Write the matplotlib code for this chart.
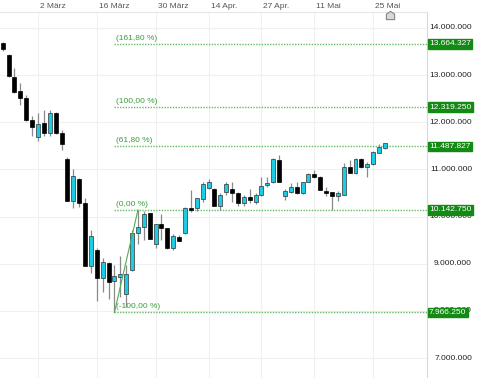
import numpy as np
import pandas as pd
import matplotlib
matplotlib.use("Agg")
import matplotlib.pyplot as plt
import matplotlib.transforms as mtransforms
from matplotlib.path import Path

plt.rcParams['font.family'] = ['Liberation Sans', 'DejaVu Sans']

# ----------------------------- DATA (values in millions) ----------------------------- #
holidays = ['2020-04-10', '2020-04-13', '2020-05-01']
days = pd.bdate_range('2020-02-21', '2020-05-27')
days = days[~days.isin(pd.to_datetime(holidays))]

opens = [13.688, 13.427, 12.954, 12.664, 12.509, 12.048, 11.681, 11.978, 11.779, 12.191,
         11.779, 11.215, 10.330, 10.803, 10.281, 8.958, 9.291, 8.690, 9.021, 8.640,
         8.712, 8.351, 8.866, 9.658, 9.772, 10.069, 9.412, 9.842, 9.751, 9.340,
         9.573, 9.645, 10.175, 10.175, 10.366, 10.600, 10.578, 10.224, 10.527, 10.578,
         10.506, 10.294, 10.409, 10.315, 10.457, 10.670, 10.740, 11.200, 10.443, 10.527,
         10.621, 10.493, 10.727, 10.903, 10.846, 10.549, 10.521, 10.436, 10.457, 11.058,
         10.918, 11.215, 11.045, 11.115, 11.355, 11.448]
highs = [13.703, 13.440, 13.145, 12.827, 12.579, 12.133, 12.191, 12.261, 12.261, 12.218,
         11.836, 11.270, 11.003, 10.818, 10.387, 9.715, 9.327, 9.115, 9.036, 8.973,
         9.163, 8.973, 9.715, 10.14275, 10.118, 10.086, 9.842, 10.054, 9.757, 9.630,
         9.609, 10.209, 10.564, 10.404, 10.727, 10.790, 10.600, 10.493, 10.740, 10.740,
         10.527, 10.457, 10.578, 10.493, 10.846, 10.846, 11.232, 11.306, 10.578, 10.706,
         10.740, 10.740, 10.931, 10.988, 10.850, 10.634, 10.525, 10.532, 11.130, 11.200,
         11.236, 11.236, 11.151, 11.397, 11.539, 11.567]
lows = [13.518, 12.954, 12.615, 12.367, 12.034, 11.709, 11.609, 11.709, 11.709, 11.751,
        11.412, 10.330, 10.175, 10.196, 8.951, 8.796, 8.215, 8.406, 8.245, 7.96625,
        8.300, 8.088, 8.845, 9.418, 9.503, 9.514, 9.327, 9.503, 9.322, 9.291,
        9.482, 9.630, 10.103, 10.124, 10.315, 10.585, 10.218, 10.139, 10.457, 10.315,
        10.224, 10.224, 10.294, 10.277, 10.426, 10.634, 10.718, 10.723, 10.351, 10.493,
        10.489, 10.489, 10.723, 10.824, 10.553, 10.436, 10.139, 10.337, 10.451, 10.924,
        10.913, 11.024, 10.846, 11.100, 11.342, 11.427]
closes = [13.555, 12.982, 12.649, 12.521, 12.048, 11.906, 11.964, 11.779, 12.191, 11.766,
          11.539, 10.337, 10.867, 10.281, 8.958, 9.594, 8.690, 9.043, 8.618, 8.739,
          8.775, 8.775, 9.658, 9.772, 10.054, 9.518, 9.836, 9.751, 9.327, 9.588,
          9.488, 10.175, 10.139, 10.387, 10.691, 10.727, 10.224, 10.457, 10.691, 10.506,
          10.281, 10.421, 10.351, 10.457, 10.655, 10.718, 11.215, 10.727, 10.549, 10.621,
          10.493, 10.727, 10.903, 10.846, 10.564, 10.506, 10.443, 10.506, 11.058, 10.931,
          11.215, 11.045, 11.115, 11.376, 11.469, 11.554]

tick_dates = ['2020-03-02', '2020-03-16', '2020-03-30', '2020-04-14', '2020-04-27', '2020-05-11', '2020-05-25']
tick_names = ['2 März', '16 März', '30 März', '14 Apr.', '27 Apr.', '11 Mai', '25 Mai']

fib_values = [13.664327, 12.319250, 11.487827, 10.142750, 7.966250]
fib_names = ['(161,80 %)', '(100,00 %)', '(61,80 %)', '(0,00 %)', '(-100,00 %)']
fib_boxes = ['13.664.327', '12.319.250', '11.487.827', '10.142.750', '7.966.250']

y_ticks = [7, 8, 9, 10, 11, 12, 13, 14]

# ----------------------------- FIGURE ----------------------------- #
fig = plt.figure(figsize=(4.79, 3.78), dpi=100)
ax = fig.add_axes([0, 0, 427 / 479, 366 / 378])

start = list(days).index(pd.Timestamp('2020-03-02'))
xpos = np.arange(len(days)) - start
o = np.array(opens); h = np.array(highs); l = np.array(lows); c = np.array(closes)

up = c >= o
cyan = '#1ccbe4'
# wicks
ax.vlines(xpos, l, h, color='#8a8a8a', lw=0.9, zorder=2)
# bodies
body = np.maximum(np.abs(c - o), 0.02)
ax.bar(xpos[up], body[up], bottom=o[up], width=0.68, color=cyan, edgecolor='#333333', lw=0.5, zorder=3)
ax.bar(xpos[~up], body[~up], bottom=c[~up], width=0.68, color='black', edgecolor='black', lw=0.5, zorder=3)

ax.set_xlim(-6.46, 66.16)
ax.set_ylim(6.576, 14.339)

# grid
tick_x = [list(days).index(pd.Timestamp(d)) - start for d in tick_dates]
for tx in tick_x:
    ax.axvline(tx, color='#f0f0f0', lw=0.8, zorder=0)
for yt in y_ticks:
    ax.axhline(yt, color='#f0f0f0', lw=0.8, zorder=0)

ax.set_xticks([])
ax.set_yticks([])
for s in ['left', 'bottom']:
    ax.spines[s].set_visible(False)
ax.spines['top'].set_color('#e6e6e6')
ax.spines['right'].set_color('#d8d8d8')
ax.spines['top'].set_linewidth(0.8)
ax.spines['right'].set_linewidth(0.8)

# date labels above the plot
for tx, name in zip(tick_x, tick_names):
    ax.annotate(name, xy=(tx, 1), xycoords=('data', 'axes fraction'), xytext=(2, 2),
                textcoords='offset pixels', ha='left', va='bottom', fontsize=6, color='#555555',
                annotation_clip=False)

# small marker under last date label
house = Path([(-1, -1), (1, -1), (1, 0.3), (0, 1), (-1, 0.3), (-1, -1)])
fig.lines.append(plt.Line2D([390 / 479], [1 - 14.5 / 378], transform=fig.transFigure, marker=house,
                            markersize=6, markerfacecolor='#d8d8d8', markeredgecolor='#777777',
                            markeredgewidth=0.7, linestyle='none'))

# y labels on the right
ytrans = mtransforms.blended_transform_factory(fig.transFigure, ax.transData)
for yt in y_ticks:
    ax.text(472 / 479, yt, f"{yt * 1000000:,}".replace(',', '.'), transform=ytrans, ha='right', va='center',
            fontsize=6, color='#222222', zorder=5, clip_on=False)

# fibonacci levels
low_i = int(np.argmin(l))
high_i = low_i + int(np.argmax(h[low_i:low_i + 6]))
green = '#3a9d3a'
for v, name, box in zip(fib_values, fib_names, fib_boxes):
    ax.plot([xpos[low_i], 66.16], [v, v], color='#66bb66', lw=1.0, ls=(0, (1, 1)), zorder=1)
    ax.annotate(name, xy=(xpos[low_i], v), xytext=(2, 2), textcoords='offset pixels',
                ha='left', va='bottom', fontsize=6, color=green, zorder=4)
    ax.text(429 / 479, v, box, transform=ytrans, ha='left', va='center', fontsize=6, color='white',
            zorder=10, clip_on=False,
            bbox=dict(boxstyle='square,pad=0.15', facecolor='#138a13', edgecolor='#138a13'))

# trend line low -> high
ax.plot([xpos[low_i], xpos[high_i]], [l[low_i], h[high_i]], color='#4fae4f', lw=0.8, zorder=4)

fig.savefig('out.png', dpi=100)
